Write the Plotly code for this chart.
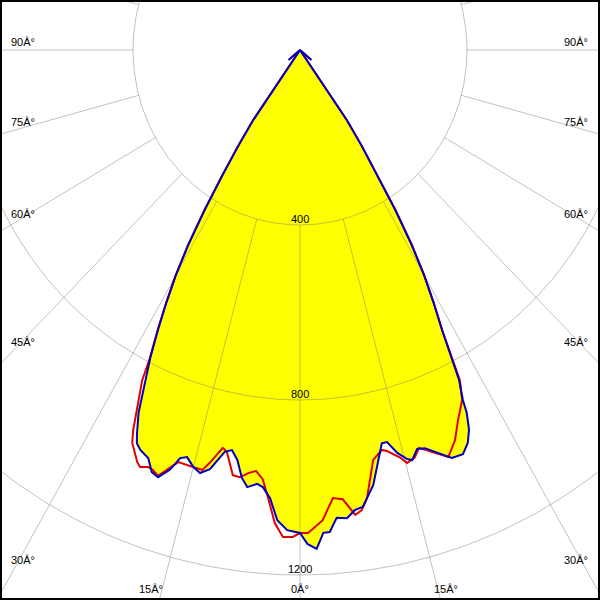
import numpy as np
import plotly.graph_objects as go

# ---- data (gamma angle in degrees, intensity in cd) ----
blue_gamma = [-90, -55, -50, -45, -37,
              -35, -34, -33, -32, -31, -30, -29, -28, -27, -26, -25, -24, -23.5,
              -22.7, -21.3, -20.2, -19.2, -18, -17.1, -16.2, -15, -13.9, -12.7,
              -11.1, -10.1, -9.1, -8.1, -7.2, -5.9, -5.1, -4, -2.9, -1.6, 0,
              0.9, 2, 2.9, 3.7, 4.7, 6, 7.1, 8.2, 10, 12.3, 13.1, 14.2, 15.3,
              16, 17.1, 18.2, 21.3, 22.9, 24.1, 25, 25.7, 26, 26.8,
              28, 29, 30, 31, 32, 33, 34, 35, 37, 45, 50, 55, 90]
blue_cd = [0, 0, 36, 0, 0,
           196, 265, 340, 430, 520, 595, 660, 725, 790, 850, 915, 960, 980,
           991, 1001, 1028, 1034, 1009, 976, 969, 987, 996, 982,
           936, 929, 949, 988, 1007, 997, 1003, 1027, 1076, 1098, 1104,
           1129, 1141, 1105, 1104, 1073, 1076, 1060, 1055, 1010, 920, 920, 950, 969,
           975, 954, 958, 1001, 1003, 984, 958, 921, 890, 845,
           725, 660, 595, 520, 430, 340, 265, 196, 0, 0, 36, 0, 0]

red_gamma = [-90, -55, -50, -45, -37,
             -35, -34, -33, -32, -31, -30, -29, -28, -27, -26.6, -24.7, -24.1,
             -22.5, -21.9, -20.9, -20.1, -19.25, -18.3, -17.2, -15.05, -13.7, -12.9,
             -11.5, -10.8, -9.4, -8.4, -7.3, -6.25, -5.2, -4.3, -3.2, -2.1, -0.9, 0,
             1, 2.9, 4.4, 5.7, 7.1, 8, 8.9, 10.6, 12.1, 12.8, 14.4, 15.2, 16.4, 17.4,
             20.9, 22.6, 24.1, 25.9, 26.9,
             28, 29, 30, 31, 32, 33, 34, 35, 37, 45, 50, 55, 90]
red_cd = [0, 0, 28, 0, 0,
          198, 268, 343, 433, 523, 598, 663, 728, 795, 844, 956, 984,
          1019, 1027, 1020, 1023, 1031, 1009, 986, 987, 988, 968,
          928, 935, 985, 987, 975, 968, 985, 1025, 1083, 1114, 1113, 1104,
          1104, 1076, 1027, 1032, 1071, 1062, 1037, 953, 935, 940, 961, 978, 972, 953,
          996, 966, 927, 889, 846,
          725, 660, 595, 520, 430, 340, 265, 196, 0, 0, 30, 0, 0]

fill_gamma = blue_gamma[4:-4]
fill_cd = blue_cd[4:-4]

ring_values = [400, 800, 1200, 1600]
ring_labels = ["400", "800", "1200"]
spoke_angles = list(range(0, 360, 15))
angle_labels_left = [("90Â°", 42), ("75Â°", 122), ("60Â°", 214), ("45Â°", 342), ("30Â°", 560)]
angle_labels_right = [("90Â°", 42), ("75Â°", 122), ("60Â°", 214), ("45Â°", 342), ("30Â°", 560)]
angle_labels_bottom = [("15Â°", 151), ("0Â°", 300), ("15Â°", 446)]


def to_xy(gam, cd):
    g = np.radians(np.asarray(gam, dtype=float))
    r = np.asarray(cd, dtype=float)
    return r * np.sin(g), -r * np.cos(g)


fig = go.Figure()

fx, fy = to_xy(fill_gamma, fill_cd)
fig.add_trace(go.Scatter(x=fx, y=fy, mode="lines", fill="toself", fillcolor="#ffff00",
                         line=dict(width=0, color="#ffff00"), hoverinfo="skip"))

# grid
gx, gy = [], []
t = np.radians(np.arange(0, 361, 1))
for rv in ring_values:
    gx += list(rv * np.sin(t)) + [None]
    gy += list(-rv * np.cos(t)) + [None]
for a in spoke_angles:
    ar = np.radians(a)
    gx += [400 * np.sin(ar), 3000 * np.sin(ar), None]
    gy += [-400 * np.cos(ar), -3000 * np.cos(ar), None]
fig.add_trace(go.Scatter(x=gx, y=gy, mode="lines",
                         line=dict(width=1, color="rgba(120,120,120,0.45)"), hoverinfo="skip"))

rx, ry = to_xy(red_gamma, red_cd)
fig.add_trace(go.Scatter(x=rx, y=ry, mode="lines", line=dict(width=2, color="#e00000"), hoverinfo="skip"))
bx, by = to_xy(blue_gamma, blue_cd)
fig.add_trace(go.Scatter(x=bx, y=by, mode="lines", line=dict(width=2, color="#0000c0"), hoverinfo="skip"))

font = dict(family="Liberation Sans, Arial, sans-serif", size=11, color="black")
ann = []
for lab, rv in zip(ring_labels, ring_values):
    ann.append(dict(x=0, y=-rv, xref="x", yref="y", text=lab, showarrow=False,
                    yanchor="middle", xanchor="center", yshift=6, font=font))
for lab, py in angle_labels_left:
    ann.append(dict(x=9 / 600, y=1 - py / 600, xref="paper", yref="paper", text=lab,
                    showarrow=False, xanchor="left", yanchor="middle", font=font))
for lab, py in angle_labels_right:
    ann.append(dict(x=590 / 600, y=1 - py / 600, xref="paper", yref="paper", text=lab,
                    showarrow=False, xanchor="right", yanchor="middle", font=font))
for lab, px in angle_labels_bottom:
    ann.append(dict(x=px / 600, y=1 - 589 / 600, xref="paper", yref="paper", text=lab,
                    showarrow=False, xanchor="center", yanchor="middle", font=font))

sx = 0.4175
sy = 0.4375
fig.update_layout(
    width=600, height=600, margin=dict(l=0, r=0, t=0, b=0),
    paper_bgcolor="white", plot_bgcolor="white", showlegend=False,
    xaxis=dict(visible=False, range=[-300 / sx, 300 / sx], fixedrange=True),
    yaxis=dict(visible=False, range=[-550 / sy, 50 / sy], fixedrange=True),
    annotations=ann,
    shapes=[dict(type="rect", xref="paper", yref="paper", x0=0, y0=0, x1=1, y1=1,
                 line=dict(color="black", width=4))],
)
fig.write_html("out.html", config={"displayModeBar": False},
               post_script="document.body.style.margin='0';document.body.style.padding='0';")
